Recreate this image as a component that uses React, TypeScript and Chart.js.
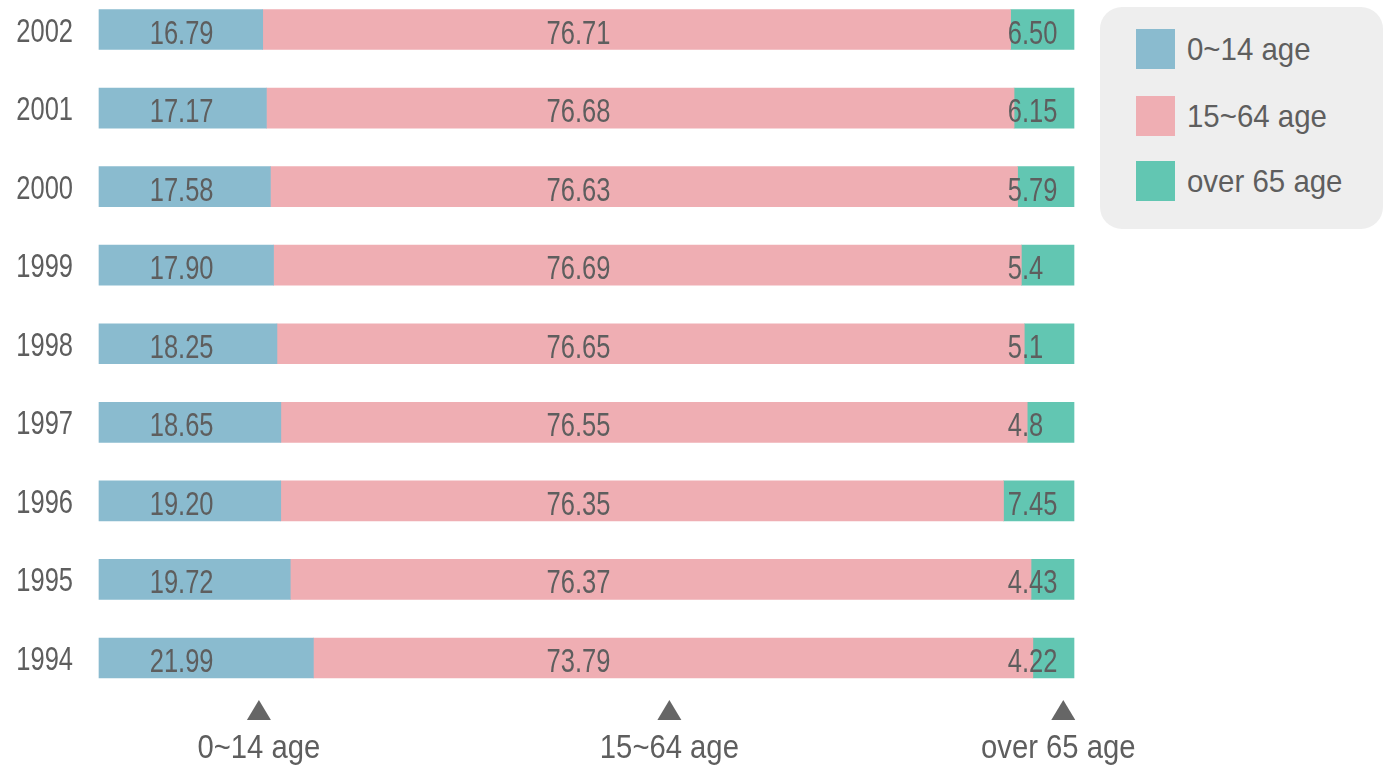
import React, { useEffect, useRef } from "react";
import { Chart, registerables } from "chart.js";

Chart.register(...registerables);

// ---- data ----
const years = ["2002", "2001", "2000", "1999", "1998", "1997", "1996", "1995", "1994"];
const seriesNames = ["0~14 age", "15~64 age", "over 65 age"];
const age0to14 = ["16.79", "17.17", "17.58", "17.90", "18.25", "18.65", "19.20", "19.72", "21.99"];
const age15to64 = ["76.71", "76.68", "76.63", "76.69", "76.65", "76.55", "76.35", "76.37", "73.79"];
const age65plus = ["6.50", "6.15", "5.79", "5.4", "5.1", "4.8", "7.45", "4.43", "4.22"];

// ---- style ----
const COLORS = ["#8abbcf", "#efaeb3", "#62c6b2"];
const TEXT = "#5e5e5e";
const FONT = '"Liberation Sans", Arial, sans-serif';
const LABEL_ANCHORS = [5.2, 45.9, 93.2]; // % of axis where each segment's label starts
const MARKER_POS = [16.4, 58.5, 98.9]; // % of axis for bottom markers

const seriesText = [age0to14, age15to64, age65plus];

function drawText(
  ctx: CanvasRenderingContext2D,
  t: string,
  x: number,
  y: number,
  align: CanvasTextAlign,
  size: number,
  sx: number
) {
  ctx.save();
  ctx.translate(x, y);
  ctx.scale(sx, 1);
  ctx.font = `${size}px ${FONT}`;
  ctx.textAlign = align;
  ctx.textBaseline = "alphabetic";
  ctx.fillText(t, 0, 0);
  ctx.restore();
}

const overlay = {
  id: "overlay",
  afterDatasetsDraw(chart: any) {
    const ctx: CanvasRenderingContext2D = chart.ctx;
    const xs = chart.scales.x;
    const ys = chart.scales.y;
    const area = chart.chartArea;
    ctx.save();
    ctx.fillStyle = TEXT;
    years.forEach((yr, i) => {
      const cy = ys.getPixelForValue(i);
      drawText(ctx, yr, area.left - 26, cy + 12, "right", 34, 0.75);
      seriesText.forEach((arr, s) => {
        drawText(ctx, arr[i], xs.getPixelForValue(LABEL_ANCHORS[s]), cy + 14, "left", 34, 0.75);
      });
    });
    // bottom markers
    MARKER_POS.forEach((p, s) => {
      const cx = xs.getPixelForValue(p);
      const top = area.bottom + 42;
      ctx.beginPath();
      ctx.moveTo(cx, top);
      ctx.lineTo(cx + 12, top + 20);
      ctx.lineTo(cx - 12, top + 20);
      ctx.closePath();
      ctx.fillStyle = "#666666";
      ctx.fill();
      ctx.fillStyle = TEXT;
      drawText(ctx, seriesNames[s], cx - (s === 2 ? 5 : 0), area.bottom + 100, "center", 34, 0.86);
    });
    ctx.restore();
  },
};

export default function App() {
  const ref = useRef<HTMLCanvasElement>(null);
  useEffect(() => {
    if (!ref.current) return;
    const nums = seriesText.map((a) => a.map(Number));
    const totals = years.map((_, i) => nums[0][i] + nums[1][i] + nums[2][i]);
    const chart = new Chart(ref.current, {
      type: "bar",
      data: {
        labels: years,
        datasets: seriesNames.map((name, s) => ({
          label: name,
          data: nums[s].map((v, i) => (v / totals[i]) * 100),
          backgroundColor: COLORS[s],
          borderWidth: 0,
          barThickness: 40,
          clip: false as any,
        })),
      },
      options: {
        indexAxis: "y",
        animation: false,
        responsive: true,
        maintainAspectRatio: false,
        layout: { padding: { top: 29.5, bottom: 110, left: 99, right: 311 } },
        plugins: { legend: { display: false }, tooltip: { enabled: false } },
        scales: {
          x: { display: false, stacked: true, min: 0, max: 100 },
          y: { display: false, stacked: true, offset: false },
        },
      },
      plugins: [overlay],
    });
    return () => chart.destroy();
  }, []);

  const legendTops = [22, 89, 154];
  return (
    <div style={{ position: "absolute", left: 0, top: 0, width: 1385, height: 768, background: "#fff" }}>
      <canvas ref={ref} />
      <div
        style={{
          position: "absolute",
          left: 1100,
          top: 7,
          width: 283,
          height: 222,
          borderRadius: 22,
          background: "#eeeeee",
        }}
      >
        {seriesNames.map((n, i) => (
          <div key={n} style={{ position: "absolute", left: 36, top: legendTops[i], height: 40, display: "flex", alignItems: "center" }}>
            <div style={{ width: 39, height: 40, background: COLORS[i] }} />
            <span
              style={{
                marginLeft: 12,
                fontFamily: FONT,
                fontSize: 32,
                color: TEXT,
                whiteSpace: "nowrap",
                display: "inline-block",
                transform: "scaleX(0.92)",
                transformOrigin: "left center",
                lineHeight: "40px",
              }}
            >
              {n}
            </span>
          </div>
        ))}
      </div>
    </div>
  );
}
